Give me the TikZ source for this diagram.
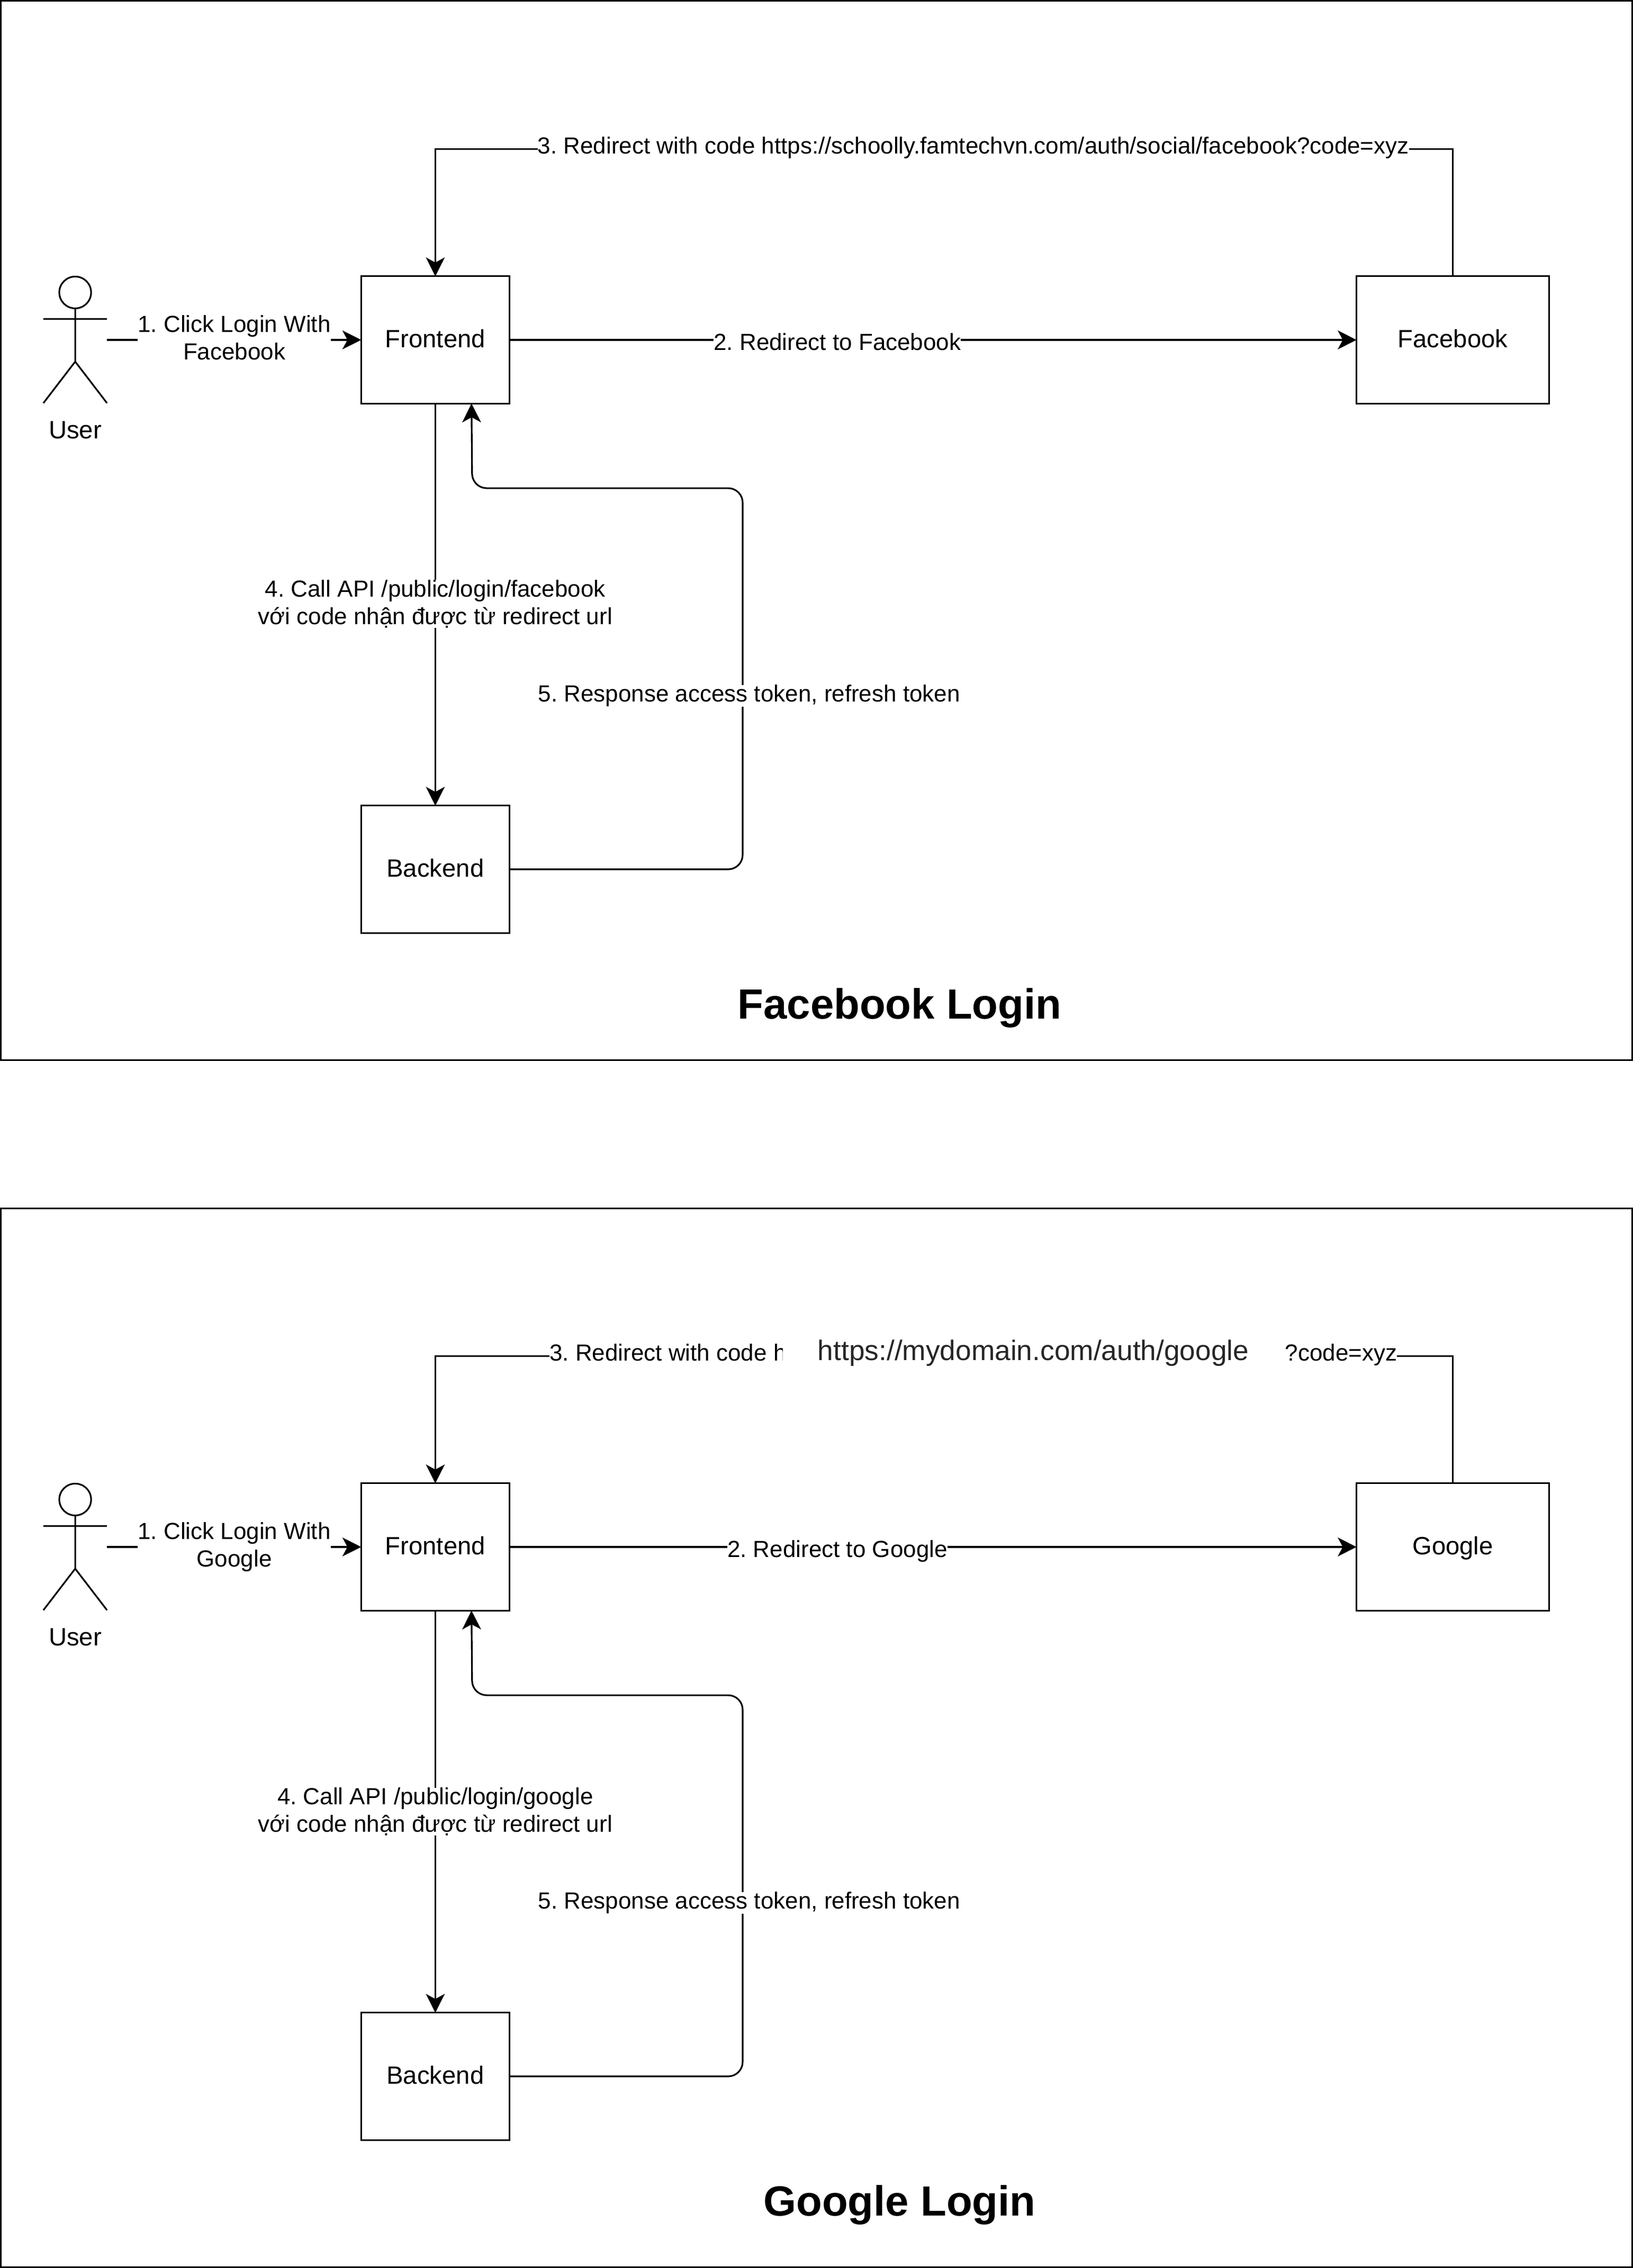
\documentclass[tikz,border=0pt]{standalone}
\usepackage{fontspec}
\setmainfont{Liberation Sans}
\usetikzlibrary{arrows.meta}
\usetikzlibrary{calc}
\tikzset{
  panel/.style={draw, line width=1.15pt},
  server/.style={draw, rectangle, line width=1.15pt, outer sep=0pt, minimum height=88pt, text height=14pt, text depth=3.5pt, font=\fontsize{17.3}{19}\selectfont},
  actorbox/.style={rectangle, minimum width=44pt, minimum height=88pt, inner sep=0pt, outer sep=0pt},
  actorname/.style={font=\fontsize{17.3}{19}\selectfont},
  flow/.style={draw, line width=1.15pt, -{Stealth[length=13pt,width=13pt,inset=3.5pt]}},
  flowback/.style={flow, rounded corners=10pt},
  flowlabel/.style={fill=white, align=center, inner sep=0pt, font=\fontsize{16.1}{19}\selectfont},
  paneltitle/.style={font=\bfseries\fontsize{29.2}{34}\selectfont},
  urltext/.style={fill=white, inner xsep=24pt, inner ysep=2pt, text=black!85, font=\fontsize{19.5}{24}\selectfont},
  pics/stickman/.style={code={
    \draw[line width=1.15pt] (0,-32.8) ellipse [x radius=11pt, y radius=11pt];
    \draw[line width=1.15pt] (0,-21.8) -- (0,15) (-22,-14.5) -- (22,-14.5) (-22,43.7) -- (0,15) -- (22,43.7);
  }}
}

\begin{document}
\frenchspacing
\begin{tikzpicture}[x=1pt, y=-1pt]
  \useasboundingbox (0,0) rectangle (1129,1568);

  % facebook
  \draw[panel] (0.5,0.5) rectangle (1128.5,733);
  \node[actorbox] (fbuser) at (52,235) {};
  \pic at (fbuser) {stickman};
  \node[actorname] (fbusername) at (52,297.5) {User};
  \node[server, minimum width=102.5pt] (fbfront) at (301,235) {Frontend};
  \node[server, minimum width=133pt] (fbprovider) at (1004.5,235) {Facebook};
  \node[server, minimum width=102.5pt] (fbback) at (301,601) {Backend};
  \coordinate (fbtop) at (301,103);
  \coordinate (fbbend) at (513.5,337.5);
  \coordinate (fbtip) at ($(fbfront.south)+(25,0)$);

  \draw[flow] (fbuser) -- (fbfront);
  \draw[flow] (fbfront) -- (fbprovider);
  \draw[flow] (fbprovider.north) |- (fbtop) -- (fbfront.north);
  \draw[flow] (fbfront) -- (fbback);
  \draw[flowback] (fbback.east) -| (fbbend) -- ($(fbtip)+(0.5,58.5)$) -- (fbtip);

  \node[flowlabel] (fbstepa) at (162,233.5) {1. Click Login With\\Facebook};
  \node[flowlabel] (fbstepb) at (579,236.5) {2. Redirect to Facebook};
  \node[flowlabel] (fbstepc) at (673,102) {3. Redirect with code https://schoolly.famtechvn.com/auth/social/facebook?code=xyz};
  \node[flowlabel] (fbstepd) at (301,417.5) {4. Call API /public/login/facebook\\với code nhận được từ redirect url};
  \node[flowlabel] (fbstepe) at (518,481) {5. Response access token, refresh token};
  \node[paneltitle] (fbtitle) at (622,697) {Facebook Login};

  % google
  \draw[panel] (0.5,835.5) rectangle (1128.5,1567.5);
  \begin{scope}[yshift=-834.5pt]
    \node[actorbox] (guser) at (52,235) {};
    \pic at (guser) {stickman};
    \node[actorname] (gusername) at (52,297.5) {User};
    \node[server, minimum width=102.5pt] (gfront) at (301,235) {Frontend};
    \node[server, minimum width=133pt] (gprovider) at (1004.5,235) {Google};
    \node[server, minimum width=102.5pt] (gback) at (301,601) {Backend};
    \coordinate (gtop) at (301,103);
    \coordinate (gbend) at (513.5,337.5);
    \coordinate (gtip) at ($(gfront.south)+(25,0)$);

    \draw[flow] (guser) -- (gfront);
    \draw[flow] (gfront) -- (gprovider);
    \draw[flow] (gprovider.north) |- (gtop) -- (gfront.north);
    \draw[flow] (gfront) -- (gback);
    \draw[flowback] (gback.east) -| (gbend) -- ($(gtip)+(0.5,58.5)$) -- (gtip);

    \node[flowlabel] (gstepa) at (162,235) {1. Click Login With\\Google};
    \node[flowlabel] (gstepb) at (579,238) {2. Redirect to Google};
    \node[flowlabel] (gstepc) at (673,102) {\makebox[586pt]{3. Redirect with code https\hfill ?code=xyz}};
    \node[urltext] (gurl) at (714.5,101) {https://mydomain.com/auth/google};
    \node[flowlabel] (gstepd) at (301,418) {4. Call API /public/login/google\\với code nhận được từ redirect url};
    \node[flowlabel] (gstepe) at (518,481) {5. Response access token, refresh token};
    \node[paneltitle] (gtitle) at (622,690) {Google Login};
  \end{scope}
\end{tikzpicture}
\end{document}
